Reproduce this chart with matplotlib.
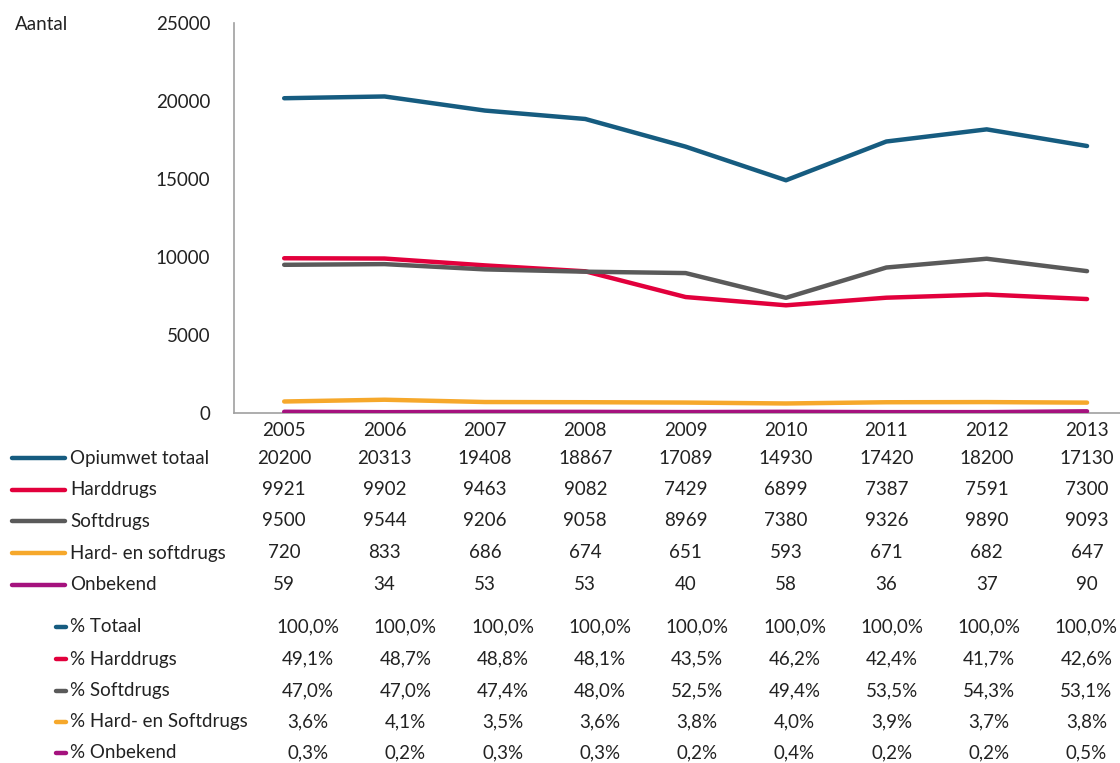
import matplotlib.pyplot as plt
from matplotlib.lines import Line2D
from matplotlib.transforms import blended_transform_factory

years = ["2005", "2006", "2007", "2008", "2009", "2010", "2011", "2012", "2013"]
series_names = ["Opiumwet totaal", "Harddrugs", "Softdrugs", "Hard- en softdrugs", "Onbekend"]
opiumwet = [20200, 20313, 19408, 18867, 17089, 14930, 17420, 18200, 17130]
harddrugs = [9921, 9902, 9463, 9082, 7429, 6899, 7387, 7591, 7300]
softdrugs = [9500, 9544, 9206, 9058, 8969, 7380, 9326, 9890, 9093]
hard_soft = [720, 833, 686, 674, 651, 593, 671, 682, 647]
onbekend = [59, 34, 53, 53, 40, 58, 36, 37, 90]

pct_names = ["% Totaal", "% Harddrugs", "% Softdrugs", "% Hard- en Softdrugs", "% Onbekend"]
pct_totaal = ["100,0%"] * 9
pct_hard = ["49,1%", "48,7%", "48,8%", "48,1%", "43,5%", "46,2%", "42,4%", "41,7%", "42,6%"]
pct_soft = ["47,0%", "47,0%", "47,4%", "48,0%", "52,5%", "49,4%", "53,5%", "54,3%", "53,1%"]
pct_hardsoft = ["3,6%", "4,1%", "3,5%", "3,6%", "3,8%", "4,0%", "3,9%", "3,7%", "3,8%"]
pct_onbekend = ["0,3%", "0,2%", "0,3%", "0,3%", "0,2%", "0,4%", "0,2%", "0,2%", "0,5%"]

colors = ["#165c80", "#e2003c", "#5a5a5a", "#f6a82b", "#a5127e"]
yticks = [0, 5000, 10000, 15000, 20000, 25000]

plt.rcParams['font.family'] = ['Lato', 'DejaVu Sans']
W, H = 1120, 763
fig = plt.figure(figsize=(W / 100, H / 100), dpi=100)
ax = fig.add_axes([234 / W, 1 - 412.7 / H, 1 - 234 / W, (412.7 - 23.5) / H])

fs = 13.5
txt = "#222222"

series = [opiumwet, harddrugs, softdrugs, hard_soft, onbekend]
xs = range(len(years))
for vals, c in zip(series, colors):
    ax.plot(xs, vals, color=c, lw=3.2, solid_capstyle='round', zorder=3)

ax.set_ylim(0, 25000)
ax.set_xlim(-0.5, (W - 283) / 100.5)
ax.set_yticks(yticks)
ax.set_yticklabels([str(v) for v in yticks], fontsize=fs, color=txt)
ax.set_xticks([])
ax.tick_params(axis='y', length=0, pad=17)
for s in ["top", "right"]:
    ax.spines[s].set_visible(False)
for s in ["left", "bottom"]:
    ax.spines[s].set_color("#a0a0a0")
    ax.spines[s].set_linewidth(1.2)

fig.text(15 / W, 1 - 24 / H, "Aantal", fontsize=fs, va="center", ha="left", color=txt)

tcol = blended_transform_factory(ax.transData, fig.transFigure)

def fy(py):
    return 1 - py / H

# year row
for i, yr in enumerate(years):
    fig.text(i, fy(430), yr, transform=tcol, ha="center", va="center", fontsize=fs, color=txt)

# counts table
row_y = [458, 489.5, 521, 553, 585]
for name, vals, c, py in zip(series_names, series, colors, row_y):
    fig.add_artist(Line2D([12 / W, 65 / W], [fy(py), fy(py)], color=c, lw=3.2,
                          solid_capstyle='round', transform=fig.transFigure))
    fig.text(70 / W, fy(py), name, ha="left", va="center", fontsize=fs, color=txt)
    for i, v in enumerate(vals):
        fig.text(i, fy(py), str(v), transform=tcol, ha="center", va="center", fontsize=fs, color=txt)

# percentage table
pct_rows = [pct_totaal, pct_hard, pct_soft, pct_hardsoft, pct_onbekend]
pct_y = [627, 659, 690.5, 722, 753]
for name, vals, c, py in zip(pct_names, pct_rows, colors, pct_y):
    fig.add_artist(Line2D([56 / W, 66 / W], [fy(py), fy(py)], color=c, lw=3.2,
                          solid_capstyle='round', transform=fig.transFigure))
    fig.text(70 / W, fy(py), name, ha="left", va="center", fontsize=fs, color=txt)
    for i, v in enumerate(vals):
        px = 308 + 97.3 * i
        fig.text(px / W, fy(py), v, ha="center", va="center", fontsize=fs, color=txt)

fig.savefig("out.png", dpi=100)
